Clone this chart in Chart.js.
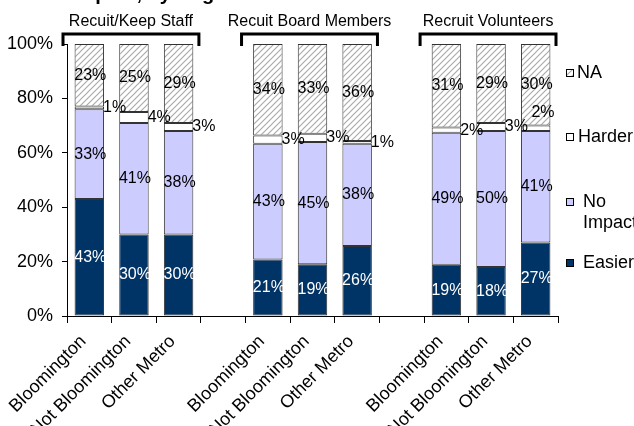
<!DOCTYPE html>
<html><head><meta charset="utf-8">
<script src="https://cdn.jsdelivr.net/npm/chart.js@4.4.0/dist/chart.umd.min.js"></script>
<style>html,body{margin:0;padding:0;background:#fff;overflow:hidden}#wrap{width:634px;height:426px;position:relative}</style>
</head><body><div id="wrap"><canvas id="c" width="634" height="426"></canvas></div>
<script>
const chartTitle = 'Impact, by Region';
const groupTitles = ['Recuit/Keep Staff', 'Recuit Board Members', 'Recruit Volunteers'];
const groupStarts = [0, 4, 8];
const categories = ['Bloomington','Not Bloomington','Other Metro','','Bloomington','Not Bloomington','Other Metro','','Bloomington','Not Bloomington','Other Metro'];
const seriesNames = ['Easier', 'No Impact', 'Harder', 'NA'];
const easier   = [43, 30, 30, null, 21, 19, 26, null, 19, 18, 27];
const noImpact = [33, 41, 38, null, 43, 45, 38, null, 49, 50, 41];
const harder   = [ 1,  4,  3, null,  3,  3,  1, null,  2,  3,  2];
const na       = [23, 25, 29, null, 34, 33, 36, null, 31, 29, 30];
const yTicks = [0, 20, 40, 60, 80, 100];

const FONT = '"Liberation Sans", Arial, sans-serif';
Chart.defaults.font.family = FONT;
Chart.defaults.color = '#000';

const canvas = document.getElementById('c');
const ctx = canvas.getContext('2d');

function hatchPattern() {
  const s = 6;
  const c = document.createElement('canvas');
  c.width = s; c.height = s;
  const x = c.getContext('2d');
  x.fillStyle = '#ffffff'; x.fillRect(0, 0, s, s);
  x.strokeStyle = '#ababab'; x.lineWidth = 1.2;
  x.beginPath();
  x.moveTo(0, s); x.lineTo(s, 0);
  x.moveTo(-s/2, s/2); x.lineTo(s/2, -s/2);
  x.moveTo(s/2, s*1.5); x.lineTo(s*1.5, s/2);
  x.stroke();
  return ctx.createPattern(c, 'repeat');
}
const hatch = hatchPattern();

const raw = [easier, noImpact, harder, na];
const totals = categories.map((_, i) => raw.reduce((s, a) => s + (a[i] || 0), 0));
const norm = a => a.map((v, i) => v == null ? null : v / totals[i] * 100);
const fills = ['#003366', '#CCCCFF', '#FFFFFF', hatch];

const datasets = raw.map((arr, k) => ({
  label: seriesNames[k],
  data: norm(arr),
  rawValues: arr,
  backgroundColor: fills[k],
  borderColor: '#333333',
  borderWidth: 1,
  borderSkipped: false,
  barPercentage: 0.66,
  categoryPercentage: 1.0
}));

const labelOverrides = { '2-10': { dx: -18, dy: -16 } };

const decor = {
  id: 'decor',
  afterDatasetsDraw(chart) {
    const c = chart.ctx;
    c.save();
    c.font = '16px ' + FONT;
    c.textBaseline = 'middle';
    chart.data.datasets.forEach((ds, k) => {
      const meta = chart.getDatasetMeta(k);
      meta.data.forEach((el, i) => {
        const v = ds.rawValues[i];
        if (v == null) return;
        const yc = (el.y + el.base) / 2;
        const txt = v + '%';
        if (k === 2) {
          const o = labelOverrides[k + '-' + i] || { dx: 0, dy: 0 };
          c.fillStyle = '#000';
          c.textAlign = 'left';
          c.fillText(txt, el.x + el.width / 2 - 1 + o.dx, yc + o.dy);
        } else {
          c.fillStyle = k === 0 ? '#ffffff' : '#000';
          c.textAlign = 'center';
          c.fillText(txt, el.x + 1, yc);
        }
      });
    });
    c.restore();
  },
  afterDraw(chart) {
    const c = chart.ctx;
    const xs = chart.scales.x;
    const slot = xs.getPixelForValue(1) - xs.getPixelForValue(0);
    c.save();
    // title (cut off by the top edge, as in the reference)
    c.font = 'bold 20px ' + FONT;
    c.fillStyle = '#000';
    c.textAlign = 'left';
    c.textBaseline = 'alphabetic';
    c.fillText(chartTitle, 72, 0);
    // brackets and group titles
    c.strokeStyle = '#000';
    c.lineWidth = 3;
    c.lineJoin = 'miter';
    c.font = '16px ' + FONT;
    c.textAlign = 'center';
    c.textBaseline = 'middle';
    groupStarts.forEach((s, g) => {
      const left = xs.getPixelForValue(s) - slot / 2 - 4;
      const right = xs.getPixelForValue(s + 2) + slot / 2 - 2;
      c.beginPath();
      c.moveTo(left, 46); c.lineTo(left, 34); c.lineTo(right, 34); c.lineTo(right, 46);
      c.stroke();
      c.fillText(groupTitles[g], (left + right) / 2, 22);
    });
    // legend
    const items = [
      { k: 3, lines: ['NA'], y: 73, tx: 577 },
      { k: 2, lines: ['Harder'], y: 137, tx: 578 },
      { k: 1, lines: ['No', 'Impact'], y: 202, tx: 583 },
      { k: 0, lines: ['Easier'], y: 263, tx: 583 }
    ];
    c.font = '18px ' + FONT;
    c.textAlign = 'left';
    c.lineWidth = 1;
    items.forEach(it => {
      const ds = chart.data.datasets[it.k];
      c.fillStyle = ds.backgroundColor;
      c.fillRect(566, it.y - 4, 8, 8);
      c.strokeStyle = '#000';
      c.strokeRect(566.5, it.y - 3.5, 7, 7);
      c.fillStyle = '#000';
      it.lines.forEach((ln, j) => c.fillText(ln, it.tx, it.y + j * 21));
    });
    c.restore();
  }
};

new Chart(ctx, {
  type: 'bar',
  data: { labels: categories, datasets },
  options: {
    responsive: false,
    animation: false,
    layout: { padding: { top: 44, right: 76, left: 0, bottom: 0 } },
    plugins: { legend: { display: false }, tooltip: { enabled: false }, title: { display: false } },
    scales: {
      x: {
        stacked: true,
        offset: true,
        grid: { offset: true, drawOnChartArea: false, color: '#000', tickColor: '#000', tickLength: 7, lineWidth: 1 },
        border: { color: '#000', width: 1 },
        ticks: { autoSkip: false, maxRotation: 45, minRotation: 45, color: '#000', font: { size: 18 }, padding: 8, labelOffset: -6 },
        afterFit: s => { s.height = 110; }
      },
      y: {
        stacked: true,
        min: 0, max: 100,
        afterBuildTicks: s => { s.ticks = yTicks.map(v => ({ value: v })); },
        grid: { drawOnChartArea: false, color: '#000', tickColor: '#000', tickLength: 5 },
        border: { color: '#000', width: 1 },
        ticks: { color: '#000', font: { size: 18 }, padding: 9, callback: v => v + '%' },
        afterFit: s => { s.width = 67; }
      }
    }
  },
  plugins: [decor]
});
</script>
</body></html>
